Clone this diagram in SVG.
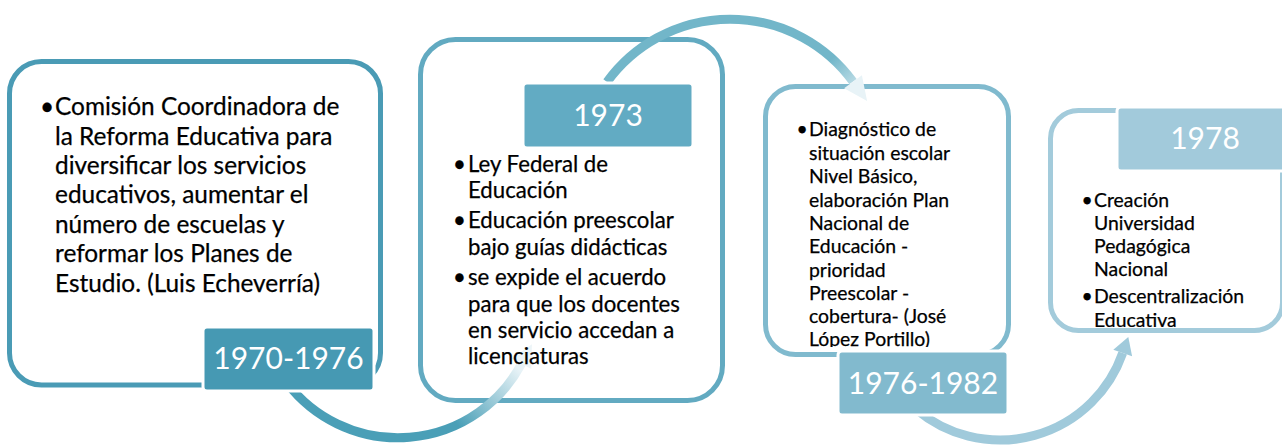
<svg xmlns="http://www.w3.org/2000/svg" width="1282" height="445" viewBox="0 0 1282 445">
<style>
.box{fill:#fff;stroke-width:5}
.lbl{stroke:#fff;stroke-width:3}
.yr{font-family:Lato,"Liberation Sans",sans-serif;font-size:30px;fill:#fff;text-anchor:middle}
.t{font-family:Lato,"Liberation Sans",sans-serif;fill:#000;stroke:#000;stroke-width:0.25}
.t1{font-size:24.4px}
.t2{font-size:22.2px}
.t3{font-size:19.4px}
.arc{fill:none;stroke-width:9}
</style>
<defs>
<linearGradient id="g1" gradientUnits="userSpaceOnUse" x1="455" y1="422" x2="515" y2="365">
<stop offset="0" stop-color="#4A9FB7"/><stop offset="1" stop-color="#E8F3F7"/>
</linearGradient>
<linearGradient id="g2" gradientUnits="userSpaceOnUse" x1="830" y1="60" x2="866" y2="102">
<stop offset="0" stop-color="#72B6C9"/><stop offset="1" stop-color="#E8F3F7"/>
</linearGradient>
<clipPath id="c3"><rect x="760" y="80" width="260" height="267"/></clipPath>
<clipPath id="c4"><rect x="1045" y="100" width="240" height="227"/></clipPath>
</defs>

<g id="node-1970-1976">
<rect class="box" x="9.5" y="61.5" width="371" height="323.5" rx="32" stroke="#4A9BB5"/>
</g>
<g id="node-1973">
<rect class="box" x="420.5" y="39.5" width="302" height="361" rx="35" stroke="#62AAC1"/>
</g>
<g id="node-1976-1982">
<rect class="box" x="765.5" y="86.5" width="243" height="268" rx="30" stroke="#80BACE"/>
</g>
<g id="node-1978">
<rect class="box" x="1050.5" y="110.5" width="232" height="220" rx="28" stroke="#A3CBDB"/>
</g>

<g id="connectors">
<path class="arc" d="M 287 383 A 140 140 0 0 0 521.6 363.7" stroke="url(#g1)"/>
<polygon points="531.9,344.3 531.3,368.9 511.9,358.5" fill="#EDF5F8"/>
<path class="arc" d="M 607 82 A 152 152 0 0 1 853 81.7" stroke="url(#g2)" stroke-width="10"/>
<polygon points="867.1,101.1 861.9,75.2 844.1,88.2" fill="#E8F3F7"/>
<path class="arc" d="M 916.4 409.6 A 130 130 0 0 0 1122.7 353" stroke="#A0CADB"/>
<polygon points="1128.3,337 1132.1,356.3 1113.3,349.7" fill="#A0CADB"/>
</g>

<g id="node-1970-1976-text" class="t t1">
<text x="40" y="115">•</text>
<text x="55" y="115">Comisión Coordinadora de</text>
<text x="55" y="145">la Reforma Educativa para</text>
<text x="55" y="174">diversificar los servicios</text>
<text x="55" y="203">educativos, aumentar el</text>
<text x="55" y="233">número de escuelas y</text>
<text x="55" y="262">reformar los Planes de</text>
<text x="55" y="292">Estudio. (Luis Echeverría)</text>
</g>

<g id="node-1973-text" class="t t2">
<text x="453" y="172">•</text><text x="468" y="172">Ley Federal de</text>
<text x="468" y="198">Educación</text>
<text x="453" y="228">•</text><text x="468" y="228">Educación preescolar</text>
<text x="468" y="255">bajo guías didácticas</text>
<text x="453" y="285">•</text><text x="468" y="285">se expide el acuerdo</text>
<text x="468" y="312">para que los docentes</text>
<text x="468" y="338">en servicio accedan a</text>
<text x="468" y="364">licenciaturas</text>
</g>

<g id="node-1976-1982-text" class="t t3" clip-path="url(#c3)">
<text x="796.5" y="136">•</text><text x="809" y="136">Diagnóstico de</text>
<text x="809" y="160">situación escolar</text>
<text x="809" y="183">Nivel Básico,</text>
<text x="809" y="207">elaboración Plan</text>
<text x="809" y="230">Nacional de</text>
<text x="809" y="253">Educación -</text>
<text x="809" y="277">prioridad</text>
<text x="809" y="300">Preescolar -</text>
<text x="809" y="323">cobertura- (José</text>
<text x="809" y="346">López Portillo)</text>
</g>

<g id="node-1978-text" class="t t3" clip-path="url(#c4)">
<text x="1081.5" y="207">•</text><text x="1094" y="207">Creación</text>
<text x="1094" y="230">Universidad</text>
<text x="1094" y="253">Pedagógica</text>
<text x="1094" y="276">Nacional</text>
<text x="1081.5" y="303">•</text><text x="1094" y="303">Descentralización</text>
<text x="1094" y="327">Educativa</text>
</g>

<g id="label-1970-1976">
<rect class="lbl" x="203" y="327" width="171" height="64" rx="4" fill="#4699B3"/>
<text class="yr" x="288.5" y="369">1970-1976</text>
</g>
<g id="label-1973">
<rect class="lbl" x="523" y="83" width="170" height="65" rx="4" fill="#62ABC3"/>
<text class="yr" x="608" y="126">1973</text>
</g>
<g id="label-1976-1982">
<rect class="lbl" x="838" y="351" width="170" height="64" rx="4" fill="#82BACE"/>
<text class="yr" x="923" y="394">1976-1982</text>
</g>
<g id="label-1978">
<rect class="lbl" x="1117" y="107" width="172" height="64" rx="4" fill="#A2CADB"/>
<text class="yr" x="1205" y="149">1978</text>
</g>
</svg>
